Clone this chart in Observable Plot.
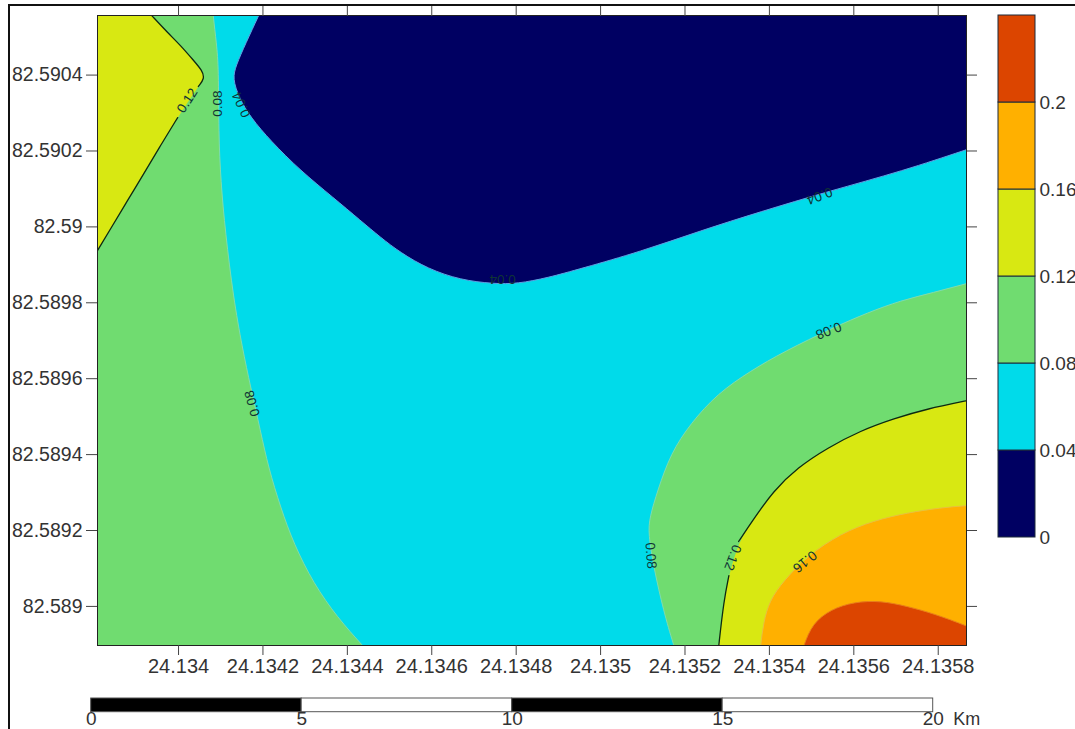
<!DOCTYPE html>
<html><head><meta charset="utf-8">
<script src="https://cdn.jsdelivr.net/npm/d3@7"></script>
<script src="https://cdn.jsdelivr.net/npm/@observablehq/plot@0.6"></script>
<style>
html,body{margin:0;padding:0;background:#fff;overflow:hidden}
#page{position:relative;width:1075px;height:729px;overflow:hidden}
#page svg{position:absolute;background:transparent}
#border{position:absolute;left:8px;top:4px;right:0;bottom:0;border-left:2px solid #111;border-top:2px solid #111}
</style></head><body><div id="page"><div id="border"></div></div>
<script>
const xTicks=[24.134,24.1342,24.1344,24.1346,24.1348,24.135,24.1352,24.1354,24.1356,24.1358];
const yTicks=[82.589,82.5892,82.5894,82.5896,82.5898,82.59,82.5902,82.5904];
const xDomain=[24.133808,24.135867];
const yDomain=[82.588897,82.590557];
const west012North=[[24.133917,82.59058],[24.133938,82.590555],[24.133974,82.590512],[24.134005,82.590478],[24.134036,82.590438],[24.134056,82.590412],[24.134062,82.590391],[24.134047,82.59037]];
const west012South=[[24.133998,82.590288],[24.133957,82.590214],[24.133917,82.590139],[24.133879,82.590069],[24.133839,82.589995],[24.133808,82.589938],[24.133787,82.589898]];
const west008=[[24.134078,82.590609],[24.134082,82.590557],[24.13409,82.590483],[24.134095,82.59042],[24.134095,82.590246],[24.1341,82.590122],[24.134111,82.589985],[24.13413,82.589814],[24.134151,82.589682],[24.134171,82.589577],[24.134194,82.589463],[24.134213,82.589366],[24.134242,82.58926],[24.134273,82.589165],[24.13432,82.58906],[24.134377,82.58897],[24.134436,82.588897],[24.134479,82.588844]];
const contour004=[[24.134206,82.590596],[24.13419,82.590557],[24.134159,82.590483],[24.134136,82.590425],[24.134128,82.590391],[24.134143,82.590341],[24.134171,82.590288],[24.134218,82.590227],[24.134289,82.590148],[24.134367,82.590077],[24.134431,82.590017],[24.134479,82.589972],[24.134526,82.589932],[24.13459,82.58989],[24.134668,82.58986],[24.134747,82.58985],[24.134803,82.58985],[24.134875,82.589866],[24.134953,82.58989],[24.135095,82.589935],[24.135237,82.58999],[24.135379,82.59004],[24.135538,82.590093],[24.135718,82.590148],[24.135868,82.590204],[24.135948,82.590233]];
const east008=[[24.13519,82.588844],[24.135173,82.588897],[24.135149,82.588989],[24.135126,82.589102],[24.135113,82.589192],[24.135116,82.589234],[24.135135,82.589305],[24.135166,82.589403],[24.135213,82.589482],[24.135277,82.589561],[24.135356,82.589621],[24.135434,82.589671],[24.135552,82.589735],[24.135633,82.589774],[24.135711,82.589806],[24.135789,82.589827],[24.135868,82.589851],[24.135948,82.589874]];
const east012South=[[24.135275,82.588844],[24.13528,82.588897],[24.135292,82.589015],[24.135304,82.589081]];
const east012North=[[24.135327,82.589171],[24.13536,82.589226],[24.13541,82.589305],[24.135467,82.589366],[24.135538,82.589418],[24.135616,82.589463],[24.135695,82.589495],[24.135775,82.589521],[24.135868,82.589542],[24.135948,82.589561]];
const east016=[[24.135375,82.588844],[24.135379,82.588897],[24.135386,82.588957],[24.1354,82.589015],[24.135434,82.589068],[24.135491,82.589134],[24.135569,82.589192],[24.135647,82.589226],[24.135728,82.589247],[24.135806,82.58926],[24.135868,82.589266],[24.135948,82.589271]];
const east020=[[24.135467,82.588844],[24.135481,82.588897],[24.135502,82.588955],[24.135545,82.588992],[24.1356,82.589012],[24.135664,82.589015],[24.135728,82.589],[24.135789,82.588981],[24.135868,82.588949],[24.135948,82.58891]];
const cornerNE=[24.135948,82.590609];
const cornerSE=[24.135948,82.588844];
const cornersNW=[[24.13372,82.589898],[24.13372,82.59058]];
const labelText=["0.12","0.08","0.04","0.08","0.04","0.04","0.08","0.08","0.12","0.16"];
const labelX=[24.134021,24.134092,24.134149,24.134175,24.134768,24.135519,24.13554,24.135119,24.135313,24.135484];
const labelY=[82.590333,82.590325,82.590322,82.589535,82.589861,82.590082,82.589727,82.589134,82.589129,82.589118];
const labelAngle=[-57,-90,-115,-105,180,159,159,86,111,141];
const legendLevels=[0,0.04,0.08,0.12,0.16,0.2,0.24];
const legendTicks=[0,0.04,0.08,0.12,0.16,0.2];
const palette=["#000062","#00dbea","#70dc70","#d8e812","#ffb000","#dc4500"];
const scaleStops=[0,5,10,15,20];
const scaleShades=["#000","#fff","#000","#fff"];

const [NAVY,CYAN,GREEN,YELLOW,ORANGE,RED]=palette;
const FONT="'Liberation Sans',Arial,sans-serif";
const TEXT="#333";
const fillArea=(pts,fill,stroke)=>Plot.line(pts,{curve:"basis",fill,stroke:stroke||"none",strokeWidth:1,clip:true});
const blackLine=pts=>Plot.line(pts,{curve:"basis",stroke:"#0d2a12",strokeWidth:1.3,clip:true});
const labels=labelText.map((text,i)=>({text,x:labelX[i],y:labelY[i],angle:labelAngle[i]}));

const map=Plot.plot({
  width:1075,height:729,marginLeft:97,marginRight:109,marginTop:15,marginBottom:84,
  x:{domain:xDomain,label:null},y:{domain:yDomain,label:null},
  style:{fontFamily:FONT,fontSize:"20px",color:TEXT},
  marks:[
    Plot.frame({fill:GREEN,stroke:"none"}),
    fillArea([...west008,...east008,cornerNE],CYAN,"#7fdcae"),
    fillArea([...contour004,cornerNE],NAVY,"#5f9fe0"),
    fillArea([...west012North,...west012South,...cornersNW],YELLOW),
    fillArea([...east012South,...east012North,cornerSE],YELLOW),
    fillArea([...east016,cornerSE],ORANGE,"#e8c040"),
    fillArea([...east020,cornerSE],RED,"#e8801a"),
    blackLine(west012North),blackLine(west012South),blackLine(east012South),blackLine(east012North),
    Plot.text(labels,{x:"x",y:"y",text:"text",rotate:"angle",fontSize:13.5,fill:"#0f3434"}),
    Plot.frame({stroke:"#222"}),
    Plot.axisX({anchor:"bottom",ticks:xTicks,tickFormat:String,tickSize:10,tickPadding:3,stroke:"#444",fontSize:20,label:null}),
    Plot.axisX({anchor:"top",ticks:xTicks,tickFormat:()=>"",tickSize:10,stroke:"#444",label:null}),
    Plot.axisY({anchor:"left",ticks:yTicks,tickFormat:String,tickSize:11,tickPadding:4,stroke:"#444",fontSize:19.5,label:null}),
    Plot.axisY({anchor:"right",ticks:yTicks,tickFormat:()=>"",tickSize:10,stroke:"#444",label:null})
  ]
});
map.style.left="0";map.style.top="0";

const legendBands=palette.map((color,i)=>({low:legendLevels[i],high:legendLevels[i+1],color}));
const legend=Plot.plot({
  width:85,height:560,marginLeft:8,marginRight:40,marginTop:15,marginBottom:23,
  y:{domain:[0,0.24],label:null},color:{type:"identity"},
  style:{fontFamily:FONT,fontSize:"19px",color:TEXT},
  marks:[
    Plot.barY(legendBands,{y1:"low",y2:"high",fill:"color",stroke:"#1d2a3a",strokeWidth:1}),
    Plot.axisY({anchor:"right",ticks:legendTicks,tickFormat:String,tickSize:0,tickPadding:4,fontSize:19,label:null})
  ]
});
legend.style.left="990px";legend.style.top="0";

const scaleSegments=scaleShades.map((shade,i)=>({from:scaleStops[i],to:scaleStops[i+1],shade}));
const bar=Plot.plot({
  width:1075,height:39,marginLeft:90.7,marginRight:142.3,marginTop:8,marginBottom:17.3,
  x:{domain:[0,20],label:null},color:{type:"identity"},
  style:{fontFamily:FONT,fontSize:"19px",color:TEXT},
  marks:[
    Plot.barX(scaleSegments,{x1:"from",x2:"to",fill:"shade",stroke:"#555",strokeWidth:1}),
    Plot.axisX({anchor:"bottom",ticks:scaleStops,tickFormat:String,tickSize:0,tickPadding:-1,fontSize:19,label:null}),
    Plot.text(["Km"],{x:20,frameAnchor:"bottom",lineAnchor:"middle",textAnchor:"start",dx:20,dy:7.5,fontSize:18,fill:TEXT})
  ]
});
bar.style.left="0";bar.style.top="690px";

const page=document.getElementById("page");
page.append(map,legend,bar);
</script></body></html>
